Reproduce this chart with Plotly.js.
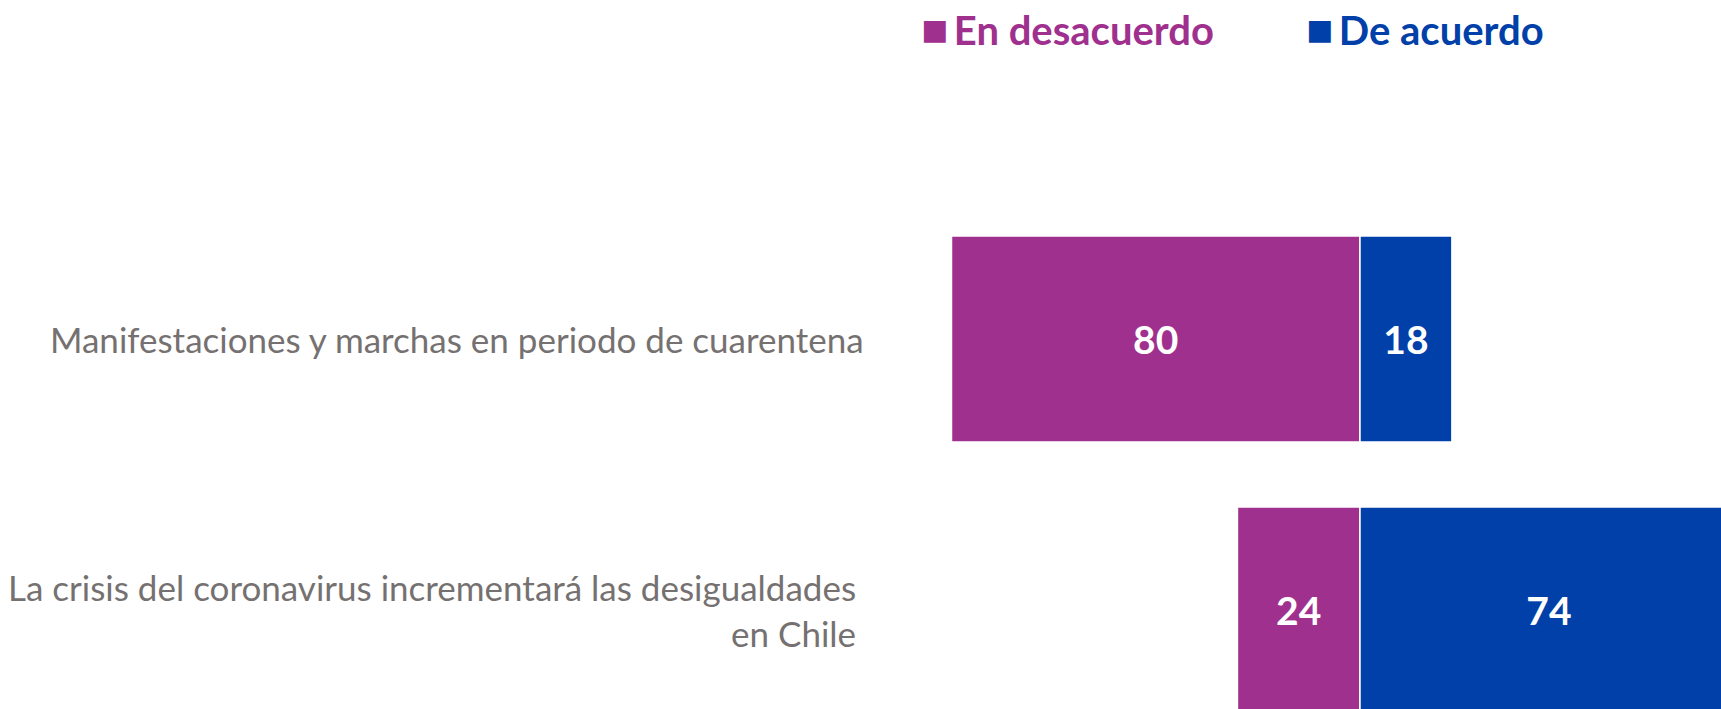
<!DOCTYPE html>
<html>
<head>
<meta charset="utf-8">
<script src="https://cdn.plot.ly/plotly-3.0.1.min.js"></script>
<style>html,body{margin:0;padding:0;background:#fff;}#chart{width:1721px;height:709px;}</style>
</head>
<body>
<div id="chart"></div>
<script>
var categories = [
  "Manifestaciones y marchas en periodo de cuarentena",
  "La crisis del coronavirus incrementará las desigualdades<br>en Chile"
];
var desacuerdo = [80, 24];
var deAcuerdo = [18, 74];
var seriesNames = ["En desacuerdo", "De acuerdo"];
var colors = ["#A0308E", "#0040A8"];
var labelShift = [-14, -22];

var FONT = "Lato";

var traces = [
  {
    type: "bar", orientation: "h", name: seriesNames[0],
    y: categories, x: desacuerdo.map(function(v){return -v;}),
    text: desacuerdo.map(String), textposition: "inside", insidetextanchor: "middle",
    textfont: {family: FONT, size: 39, color: "#ffffff", weight: 700},
    marker: {color: colors[0], line: {color: "#ffffff", width: 1.5}},
    width: 0.76, showlegend: false, hoverinfo: "none", cliponaxis: true
  },
  {
    type: "bar", orientation: "h", name: seriesNames[1],
    y: categories, x: deAcuerdo,
    text: deAcuerdo.map(String), textposition: "inside", insidetextanchor: "middle",
    textfont: {family: FONT, size: 39, color: "#ffffff", weight: 700},
    marker: {color: colors[1], line: {color: "#ffffff", width: 1.5}},
    width: 0.76, showlegend: false, hoverinfo: "none", cliponaxis: true
  }
];

var annotations = categories.map(function(c, i){
  return {xref: "paper", yref: "y", x: 0, y: c, xanchor: "right", yanchor: "middle",
    xshift: labelShift[i], align: "right", showarrow: false, text: c,
    font: {family: FONT, size: 35, color: "#767171"}};
});
annotations.push(
  {xref: "paper", yref: "paper", x: 0.0465, y: 0.961, xanchor: "left", yanchor: "middle",
   showarrow: false, text: "<span style='font-size:45px'>■</span><span style='font-size:22px'> </span><b>" + seriesNames[0] + "</b>",
   font: {family: FONT, size: 40, color: colors[0]}},
  {xref: "paper", yref: "paper", x: 0.5045, y: 0.961, xanchor: "left", yanchor: "middle",
   showarrow: false, text: "<span style='font-size:45px'>■</span><span style='font-size:22px'> </span><b>" + seriesNames[1] + "</b>",
   font: {family: FONT, size: 40, color: colors[1]}}
);

var layout = {
  width: 1721, height: 709,
  margin: {l: 880, r: 0, t: 0, b: 0},
  paper_bgcolor: "#ffffff", plot_bgcolor: "#ffffff",
  barmode: "relative",
  xaxis: {range: [-94.0, 70.7], visible: false, fixedrange: true},
  yaxis: {
    type: "category", range: [1.365, -1.251],
    showgrid: false, zeroline: false, showline: false, ticks: "", showticklabels: false
  },
  annotations: annotations
};

Plotly.newPlot("chart", traces, layout, {displayModeBar: false, staticPlot: true});
</script>
</body>
</html>
